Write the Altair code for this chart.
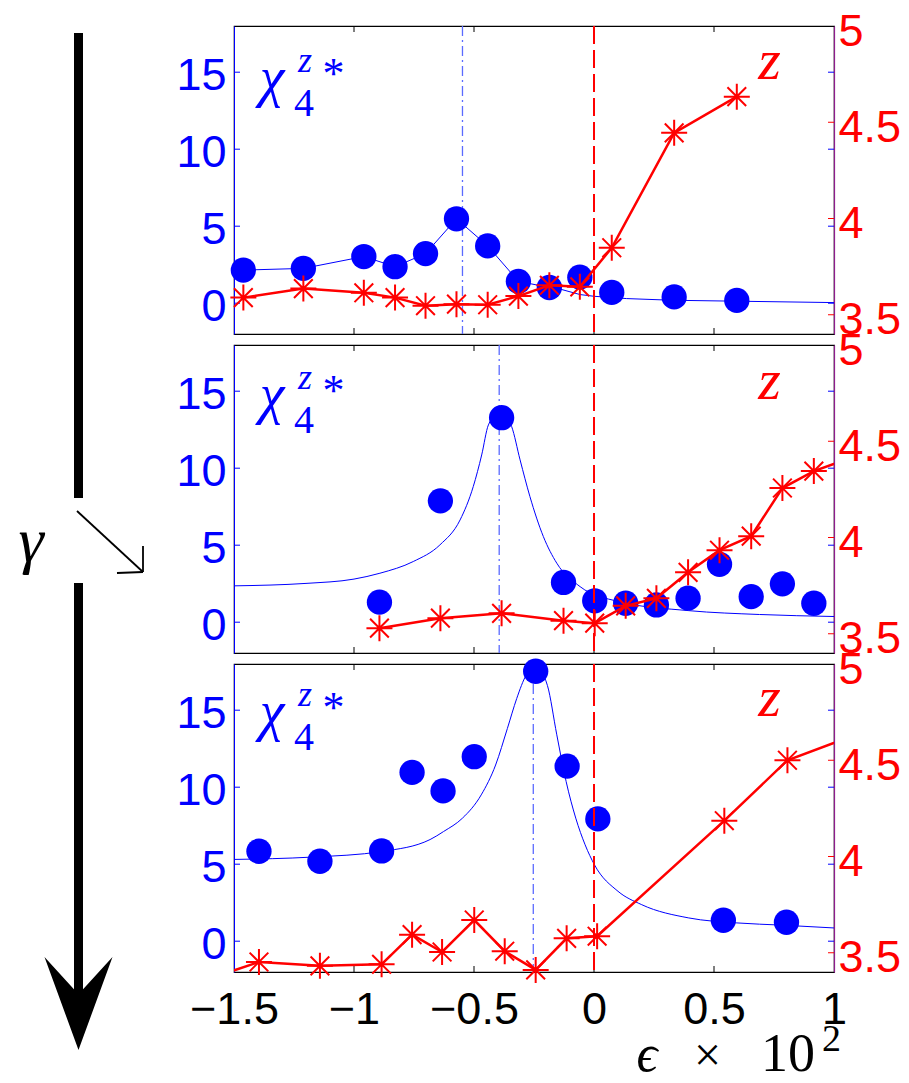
import altair as alt
import pandas as pd

# axis ranges and tick values
EPS_RANGE = [-1.5, 1.0]
CHI_RANGE = [-2.0, 18.0]
Z_RANGE = [3.4, 5.0]
EPS_TICKS = [-1.5, -1.0, -0.5, 0.0, 0.5, 1.0]
CHI_TICKS = [0, 5, 10, 15]
Z_TICKS = [3.5, 4.0, 4.5, 5.0]
EPS_CRITICAL = [0.0]

# top panel
TOP_EPS = [-1.461, -1.211, -0.959, -0.829, -0.702, -0.573, -0.443, -0.315, -0.186, -0.059, 0.074, 0.334, 0.595]
TOP_CHI = [2.15, 2.26, 3.03, 2.37, 3.22, 5.48, 3.72, 1.42, 1.02, 1.69, 0.70, 0.41, 0.18]
TOP_Z = [3.589, 3.636, 3.614, 3.589, 3.547, 3.555, 3.552, 3.597, 3.653, 3.645, 3.848, 4.445, 4.633]
TOP_Z_OUT_EPS = []
TOP_Z_OUT = []
TOP_FIT_EPS = [-1.461, -1.211, -0.959, -0.829, -0.702, -0.573, -0.443, -0.315, -0.186, -0.142, -0.058, 0.0, 0.136, 0.33, 0.595, 1.0]
TOP_FIT_CHI = [2.15, 2.26, 3.03, 2.37, 3.22, 5.48, 3.72, 1.42, 1.02, 0.92, 0.56, 0.45, 0.30, 0.19, 0.13, 0.04]
TOP_PEAK = [-0.548]

# middle panel
MID_EPS = [-0.894, -0.640, -0.385, -0.127, 0.003, 0.132, 0.260, 0.392, 0.523, 0.655, 0.785, 0.916]
MID_CHI = [1.30, 7.88, 13.28, 2.58, 1.39, 1.23, 1.12, 1.56, 3.76, 1.66, 2.49, 1.23]
MID_Z = [3.529, 3.581, 3.606, 3.568, 3.555, 3.645, 3.684, 3.819, 3.934, 4.007, 4.257, 4.345]
MID_Z_OUT_EPS = [1.05]
MID_Z_OUT = [4.405]
MID_FIT_EPS = [-1.5, -1.2, -1.0, -0.892, -0.753, -0.642, -0.558, -0.503, -0.468, -0.44, -0.39,
               -0.343, -0.308, -0.267, -0.211, -0.155, -0.058, 0.1, 0.395, 0.69, 1.0]
MID_FIT_CHI = [2.36, 2.52, 2.8, 3.18, 3.94, 5.02, 6.64, 8.81, 10.86, 12.81, 13.7,
               12.70, 10.54, 8.16, 5.56, 3.83, 2.31, 1.35, 0.75, 0.5, 0.37]
MID_PEAK = [-0.395]

# bottom panel
BOT_EPS = [-1.396, -1.142, -0.885, -0.758, -0.629, -0.499, -0.243, -0.112, 0.016, 0.539, 0.802]
BOT_CHI = [5.84, 5.19, 5.86, 10.96, 9.76, 11.98, 17.53, 11.37, 7.94, 1.36, 1.23]
BOT_Z_EPS = [-1.396, -1.142, -0.885, -0.758, -0.633, -0.499, -0.372, -0.243, -0.114, 0.013, 0.543, 0.806]
BOT_Z = [3.452, 3.432, 3.440, 3.594, 3.504, 3.670, 3.508, 3.411, 3.575, 3.586, 4.186, 4.500]
BOT_Z_OUT_EPS = [-1.65, 1.08]
BOT_Z_OUT = [3.345, 4.628]
BOT_FIT_EPS = [-1.5, -1.177, -0.882, -0.683, -0.627, -0.548, -0.470, -0.410, -0.361, -0.322, -0.283, -0.245,
               -0.194, -0.155, -0.116, -0.076, -0.037, 0.002, 0.1, 0.199, 0.395, 0.592, 0.788, 1.0]
BOT_FIT_CHI = [5.31, 5.46, 5.83, 6.6, 7.12, 7.99, 9.50, 11.44, 13.81, 15.76, 17.27, 17.9,
               16.6, 13.4, 10.36, 7.99, 6.26, 4.96, 3.24, 2.37, 1.51, 1.19, 1.04, 0.86]
BOT_PEAK = [-0.253]

BLUE = "#0000ff"
RED = "#ff0000"
PURPLE = "#8e1c8c"
DASHDOT = "#5b6bff"
SANS = "Liberation Sans"
SERIF = "Liberation Serif, DejaVu Serif"
W, H = 600, 308
TICK = 6
STAR = "M0,-1L0,1M-1,0L1,0M-0.72,-0.72L0.72,0.72M-0.72,0.72L0.72,-0.72"
HEAD = "M-0.731,-1L0,1L0.731,-1L0,-0.2Z"
ONE = pd.DataFrame({"k": [0]})

CHI_AXIS = alt.Axis(values=CHI_TICKS, orient="left", title=None, ticks=False, grid=False,
                    domainColor=BLUE, domainWidth=1, labelColor=BLUE, labelFontSize=45,
                    labelFont=SANS, labelPadding=8, labelOffset=3, labelOverlap=False, format="d")
Z_AXIS = alt.Axis(values=Z_TICKS, orient="right", title=None, ticks=False, grid=False,
                  domainColor=PURPLE, domainWidth=1.2, labelColor=RED, labelFontSize=45,
                  labelFont=SANS, labelPadding=4, labelOffset=5, labelOverlap=False, format="~g")
EPS_AXIS = alt.Axis(values=EPS_TICKS, orient="bottom", title=None, ticks=False, grid=False,
                    domain=False, labelFontSize=45, labelColor="black", labelFont=SANS,
                    labelPadding=15, labelFlush=False, labelOverlap=False, format="~g",
                    labelExpr="datum.value < 0 ? datum.label + '\u00a0\u00a0' : datum.label")


def eps_x(field, axis=alt.Undefined):
    return alt.X(f"{field}:Q", scale=alt.Scale(domain=EPS_RANGE, nice=False, zero=False), axis=axis)


def chi_y(field, axis=alt.Undefined):
    return alt.Y(f"{field}:Q", scale=alt.Scale(domain=CHI_RANGE, nice=False, zero=False), axis=axis)


def z_y(field, axis=alt.Undefined):
    return alt.Y(f"{field}:Q", scale=alt.Scale(domain=Z_RANGE, nice=False, zero=False), axis=axis)


def label(text, x, y, size, color, style="normal"):
    return alt.Chart(ONE).mark_text(
        text=text, font=SERIF, fontSize=size, fontStyle=style, color=color,
        align="center", baseline="alphabetic",
    ).encode(x=alt.value(x), y=alt.value(y))


def panel(eps, chi, fit_eps, fit_chi, fit_interp, z_eps, z, z_out_eps, z_out, peak,
          bottom, chi_dy, z_dy, extra_left=(), extra_right=()):
    dots = pd.DataFrame({"eps": eps, "chi": chi})
    fit = pd.DataFrame({"eps": fit_eps, "chi": fit_chi})
    stars = pd.DataFrame({"eps": z_eps, "z": z})
    zline = pd.concat([stars, pd.DataFrame({"eps": z_out_eps, "z": z_out})], ignore_index=True)
    chi_ticks = pd.DataFrame({"v": CHI_TICKS})
    z_ticks = pd.DataFrame({"v": Z_TICKS[:-1]})
    eps_ticks = pd.DataFrame({"v": EPS_TICKS[1:-1]})
    x_axis = EPS_AXIS if bottom else None

    left = [
        # invisible copy of the dots that carries the axes
        alt.Chart(dots).mark_circle(size=640, color=BLUE, opacity=0).encode(
            x=eps_x("eps", x_axis), y=chi_y("chi", CHI_AXIS)),
        alt.Chart(chi_ticks).mark_rule(color=BLUE, strokeWidth=1).encode(
            y=chi_y("v"), x=alt.value(0), x2=alt.value(TICK)),
        alt.Chart(chi_ticks).mark_rule(color=BLUE, strokeWidth=1).encode(
            y=chi_y("v"), x=alt.value(W - TICK), x2=alt.value(W)),
        alt.Chart(eps_ticks).mark_rule(color="black", strokeWidth=1).encode(
            x=eps_x("v"), y=alt.value(0), y2=alt.value(TICK)),
        alt.Chart(eps_ticks).mark_rule(color="black", strokeWidth=1).encode(
            x=eps_x("v"), y=alt.value(H - TICK), y2=alt.value(H)),
        alt.Chart(pd.DataFrame({"v": peak})).mark_rule(
            color=DASHDOT, strokeWidth=1.3, strokeDash=[10, 4, 2, 4]).encode(x=eps_x("v")),
        alt.Chart(fit).mark_line(color=BLUE, strokeWidth=1, interpolate=fit_interp).encode(
            x=eps_x("eps"), y=chi_y("chi")),
        alt.Chart(dots).mark_circle(size=640, color=BLUE, opacity=1).encode(
            x=eps_x("eps"), y=chi_y("chi")),
        label("χ", 38, 70 + chi_dy, 56, BLUE, "italic"),
        label("4", 70, 90 + chi_dy, 40, BLUE),
        label("z", 71, 46 + chi_dy, 36, BLUE, "italic"),
        label("*", 99.5, 62 + chi_dy, 44, BLUE),
    ] + list(extra_left)

    right = [
        alt.Chart(stars).mark_point(shape=STAR, size=676, filled=False, color=RED,
                                    strokeWidth=2, opacity=0).encode(
            x=eps_x("eps"), y=z_y("z", Z_AXIS)),
        alt.Chart(z_ticks).mark_rule(color=RED, strokeWidth=1).encode(
            y=z_y("v"), x=alt.value(W - TICK), x2=alt.value(W)),
        alt.Chart(pd.DataFrame({"v": EPS_CRITICAL})).mark_rule(
            color=RED, strokeWidth=2, strokeDash=[18, 6]).encode(x=eps_x("v")),
        alt.Chart(zline).mark_line(color=RED, strokeWidth=2.5, clip=True).encode(
            x=eps_x("eps"), y=z_y("z")),
        alt.Chart(stars).mark_point(shape=STAR, size=676, filled=False, color=RED,
                                    strokeWidth=2, opacity=1).encode(
            x=eps_x("eps"), y=z_y("z")),
        label("z", 535.5, 53 + z_dy, 58, RED, "italic"),
    ] + list(extra_right)

    return alt.layer(alt.layer(*left), alt.layer(*right)).resolve_scale(
        y="independent").properties(width=W, height=H)


# the gamma arrow running down the left side
gamma_arrow = [
    alt.Chart(ONE).mark_rule(color="black", strokeWidth=9, strokeCap="butt").encode(
        x=alt.value(-155.5), y=alt.value(7), y2=alt.value(472)),
    alt.Chart(ONE).mark_rule(color="black", strokeWidth=9, strokeCap="butt").encode(
        x=alt.value(-155.5), y=alt.value(557), y2=alt.value(972)),
    alt.Chart(ONE).mark_point(shape=HEAD, size=8649, filled=True, color="black",
                              opacity=1, strokeWidth=0).encode(
        x=alt.value(-155.5), y=alt.value(977.5)),
    alt.Chart(ONE).mark_rule(color="black", strokeWidth=1.8).encode(
        x=alt.value(-157), y=alt.value(485), x2=alt.value(-91), y2=alt.value(546)),
    alt.Chart(ONE).mark_rule(color="black", strokeWidth=1.8).encode(
        x=alt.value(-91), y=alt.value(546), x2=alt.value(-117), y2=alt.value(547)),
    alt.Chart(ONE).mark_rule(color="black", strokeWidth=1.8).encode(
        x=alt.value(-91), y=alt.value(546), x2=alt.value(-91), y2=alt.value(520)),
    label("γ", -203, 535, 64, "black", "italic"),
]

# x-axis title
eps_title = [
    label("ϵ", 413, 407, 52, "black", "italic"),
    label("×", 473.5, 407, 48, "black"),
    label("10", 554, 407, 54, "black"),
    label("2", 597.5, 387, 38, "black"),
]

top = panel(TOP_EPS, TOP_CHI, TOP_FIT_EPS, TOP_FIT_CHI, "linear", TOP_EPS, TOP_Z,
            TOP_Z_OUT_EPS, TOP_Z_OUT, TOP_PEAK, False, 0, 0, extra_left=gamma_arrow)
mid = panel(MID_EPS, MID_CHI, MID_FIT_EPS, MID_FIT_CHI, "monotone", MID_EPS, MID_Z,
            MID_Z_OUT_EPS, MID_Z_OUT, MID_PEAK, False, -2, 1)
bot = panel(BOT_EPS, BOT_CHI, BOT_FIT_EPS, BOT_FIT_CHI, "monotone", BOT_Z_EPS, BOT_Z,
            BOT_Z_OUT_EPS, BOT_Z_OUT, BOT_PEAK, True, -4, -1, extra_right=eps_title)

chart = alt.vconcat(top, mid, bot, spacing=11, bounds="flush").properties(
    padding={"left": 17, "top": 8, "right": 0, "bottom": 0}
).configure_view(stroke="black", strokeWidth=1.2)

chart.save("out.html", embed_options={"renderer": "svg", "actions": False})
